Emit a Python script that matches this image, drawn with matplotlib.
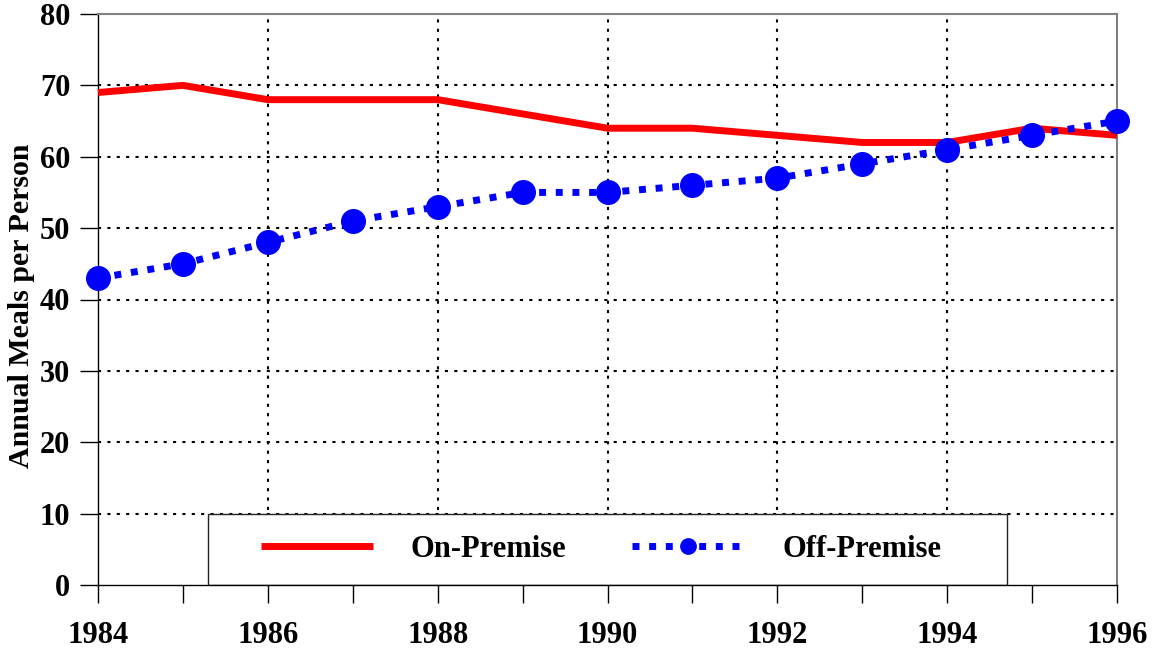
import matplotlib
matplotlib.use("Agg")
import matplotlib.pyplot as plt
from matplotlib.patches import Rectangle

years = [1984, 1985, 1986, 1987, 1988, 1989, 1990, 1991, 1992, 1993, 1994, 1995, 1996]
on_premise = [69, 70, 68, 68, 68, 66, 64, 64, 63, 62, 62, 64, 63]
off_premise = [43, 45, 48, 51, 53, 55, 55, 56, 57, 59, 61, 63, 65]
x_tick_labels = ["1984", "1986", "1988", "1990", "1992", "1994", "1996"]
y_ticks = [0, 10, 20, 30, 40, 50, 60, 70, 80]
series_names = ["On-Premise", "Off-Premise"]
ylabel_text = "Annual Meals per Person"

plt.rcParams['font.family'] = ['Liberation Serif', 'DejaVu Serif']
plt.rcParams['font.weight'] = 'bold'

W, H = 1157, 653
fig = plt.figure(figsize=(W / 100, H / 100), dpi=100)
L, R, T, B = 98, 1117, 14, 585
ax = fig.add_axes([L / W, 1 - B / H, (R - L) / W, (B - T) / H])

ax.set_xlim(1984, 1996)
ax.set_ylim(0, 80)

# grid: horizontal at each 10, vertical at even interior years
grid_style = dict(color='black', lw=1.5, linestyle=(0, (1.5, 3)), zorder=1)
for yv in y_ticks[1:-1]:
    ax.axhline(yv, **grid_style)
for xv in [int(s) for s in x_tick_labels[1:-1]]:
    ax.axvline(xv, **grid_style)

ax.plot(years, on_premise, color='#ff0000', lw=5, solid_capstyle='butt',
        solid_joinstyle='round', zorder=3, clip_on=False, label=series_names[0])
ax.plot(years, off_premise, color='#0000ff', lw=5, linestyle=(0, (1, 1.4)),
        marker='o', markersize=17, zorder=4, clip_on=False, label=series_names[1])

ax.set_xticks(years)
ax.set_xticklabels([str(y) if str(y) in x_tick_labels else "" for y in years])
ax.set_yticks(y_ticks)
ax.tick_params(axis='both', direction='out', length=13, width=1, color='black',
               labelsize=22)
ax.tick_params(axis='y', pad=7)
ax.tick_params(axis='x', pad=13)

for side in ['left', 'bottom']:
    ax.spines[side].set_color('black')
    ax.spines[side].set_linewidth(1)
for side in ['top', 'right']:
    ax.spines[side].set_color('#808080')
    ax.spines[side].set_linewidth(1.5)

# legend box
bx0 = (208 - L) / (R - L)
bx1 = (1007 - L) / (R - L)
ax.add_patch(Rectangle((bx0, 0), bx1 - bx0, 10 / 80, transform=ax.transAxes,
                       facecolor='white', edgecolor='#222222', lw=1, zorder=2))
leg_cx = (601 - L) / (R - L)
leg = ax.legend(loc='center', bbox_to_anchor=(leg_cx, 0.062), ncol=2,
                frameon=False, fontsize=22, handlelength=3.66, handletextpad=1.24,
                columnspacing=2.16, numpoints=1, markerscale=0.65)
leg.set_zorder(5)

fig.text(22 / W, 1 - 306 / H, ylabel_text, rotation=90, ha='center', va='center',
         fontsize=21.5, fontweight='bold')

fig.savefig('out.png', dpi=100)
